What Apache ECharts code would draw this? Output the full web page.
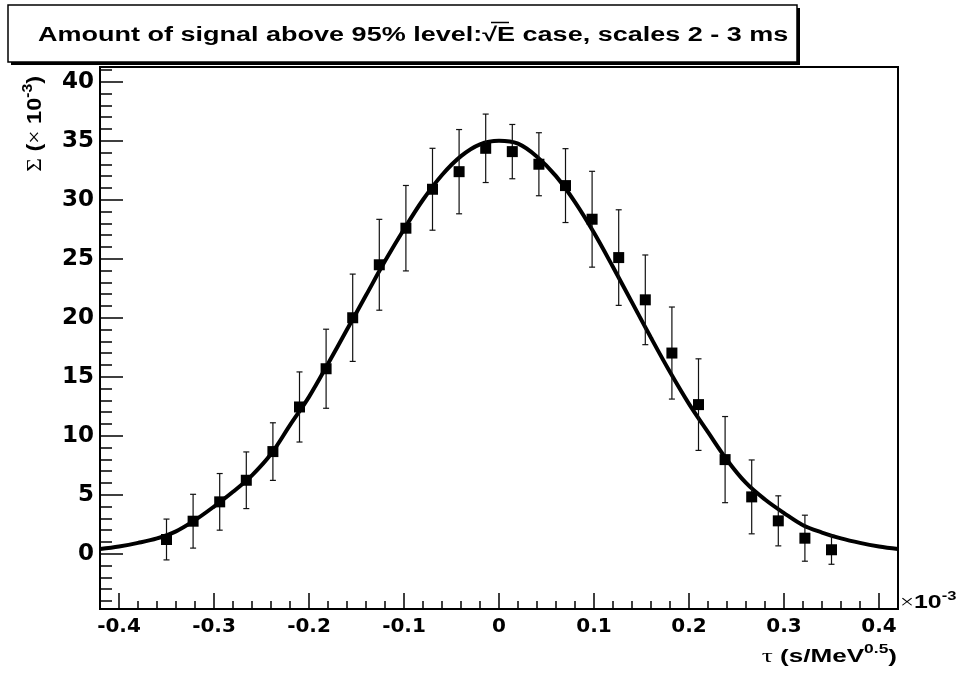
<!DOCTYPE html>
<html>
<head>
<meta charset="utf-8">
<title>Amount of signal above 95% level</title>
<script src="https://cdn.jsdelivr.net/npm/echarts@6/dist/echarts.min.js"></script>
<style>
  html, body { margin: 0; padding: 0; background: #fff; }
  #chart { width: 964px; height: 675px; }
</style>
</head>
<body>
<div id="chart"></div>
<script>
// bin centres, tau in units of 10^-3 s/MeV^0.5
const tau = [-0.350, -0.322, -0.294, -0.266, -0.238, -0.210, -0.182, -0.154, -0.126,
  -0.098, -0.070, -0.042, -0.014, 0.014, 0.042, 0.070, 0.098, 0.126, 0.154, 0.182,
  0.210, 0.238, 0.266, 0.294, 0.322, 0.350];
// measured Sigma (x 10^-3) and its error
const sigma = [1.21, 2.76, 4.40, 6.23, 8.66, 12.44, 15.68, 20.0, 24.49,
  27.59, 30.89, 32.38, 34.36, 34.08, 33.01, 31.2, 28.35, 25.1, 21.52, 17.01,
  12.64, 7.98, 4.82, 2.79, 1.32, 0.34];
const sigmaErr = [1.73, 2.28, 2.4, 2.4, 2.44, 2.97, 3.35, 3.7, 3.85,
  3.62, 3.47, 3.57, 2.9, 2.3, 2.67, 3.13, 4.06, 4.05, 3.8, 3.9,
  3.88, 3.65, 3.13, 2.12, 1.95, 1.23];

// gaussian fit curve
const fitTau = [-0.42, -0.40, -0.38, -0.36, -0.34, -0.32, -0.30, -0.28, -0.26, -0.24,
  -0.22, -0.20, -0.18, -0.16, -0.14, -0.12, -0.10, -0.08, -0.06, -0.04, -0.02, 0.00,
  0.02, 0.04, 0.06, 0.08, 0.10, 0.12, 0.14, 0.16, 0.18, 0.20, 0.22, 0.24, 0.26, 0.28,
  0.30, 0.32, 0.34, 0.36, 0.38, 0.40, 0.42];
const fitSigma = [0.4, 0.62, 0.92, 1.3, 1.9, 2.85, 4.0, 5.25, 6.65, 8.45,
  10.9, 13.3, 16.1, 19.0, 21.9, 24.8, 27.5, 30.0, 32.1, 33.7, 34.7, 35.0,
  34.75, 33.65, 32.0, 29.8, 27.2, 24.3, 21.3, 18.3, 15.4, 12.7, 10.3, 7.95, 6.0, 4.6,
  3.45, 2.42, 1.8, 1.3, 0.92, 0.62, 0.4];

// ticks
const xMajorTicks = [-0.4, -0.3, -0.2, -0.1, 0, 0.1, 0.2, 0.3, 0.4];
const yMajorTicks = [0, 5, 10, 15, 20, 25, 30, 35, 40];
const yMinorTicks = [-4, -3, -2, -1, 0, 1, 2, 3, 4, 5, 6, 7, 8, 9, 10, 11, 12, 13, 14,
  15, 16, 17, 18, 19, 20, 21, 22, 23, 24, 25, 26, 27, 28, 29, 30, 31, 32, 33, 34, 35,
  36, 37, 38, 39, 40, 41];

const chart = echarts.init(document.getElementById('chart'));

const tickFont = 'DejaVu Sans';
const sans = 'Liberation Sans';
const serif = 'Liberation Serif';
const black = '#000';

chart.setOption({
  animation: false,
  grid: {
    left: 100, right: 66, top: 67, bottom: 66,
    show: true, borderColor: black, borderWidth: 2
  },
  xAxis: [
    {
      type: 'value', min: -0.42, max: 0.42, position: 'bottom',
      axisLine: { show: true, onZero: false, lineStyle: { color: black, width: 2 } },
      axisTick: { show: true, inside: true, length: 16, customValues: xMajorTicks,
        lineStyle: { color: black, width: 1.5 } },
      axisLabel: { customValues: xMajorTicks, margin: 8, color: black,
        fontFamily: tickFont, fontWeight: 'bold', fontSize: 20 },
      splitLine: { show: false }
    },
    {
      // minor ticks only
      type: 'value', min: -0.42, max: 0.42, interval: 0.02, position: 'bottom',
      axisLine: { show: false, onZero: false },
      axisTick: { show: true, inside: true, length: 8, lineStyle: { color: black, width: 1.5 } },
      axisLabel: { show: false },
      splitLine: { show: false }
    }
  ],
  yAxis: [
    {
      type: 'value', min: -4.68, max: 41.25, position: 'left',
      axisLine: { show: true, onZero: false, lineStyle: { color: black, width: 2 } },
      axisTick: { show: true, inside: true, length: 23, customValues: yMajorTicks,
        lineStyle: { color: black, width: 1.5 } },
      axisLabel: { customValues: yMajorTicks, margin: 6, color: black,
        fontFamily: tickFont, fontWeight: 'bold', fontSize: 23 },
      splitLine: { show: false }
    },
    {
      type: 'value', min: -4.68, max: 41.25, position: 'left',
      axisLine: { show: false, onZero: false },
      axisTick: { show: true, inside: true, length: 12, customValues: yMinorTicks,
        lineStyle: { color: black, width: 1.5 } },
      axisLabel: { show: false },
      splitLine: { show: false }
    }
  ],
  series: [
    {
      name: 'fit',
      type: 'line',
      data: fitTau.map((t, i) => [t, fitSigma[i]]),
      smooth: 0.35,
      showSymbol: false,
      lineStyle: { color: black, width: 4 },
      z: 2
    },
    {
      name: 'errors',
      type: 'custom',
      data: tau.map((t, i) => [t, sigma[i], sigmaErr[i]]),
      encode: { x: 0, y: 1 },
      renderItem: function (params, api) {
        const x = api.value(0);
        const y = api.value(1);
        const e = api.value(2);
        const top = api.coord([x, y + e]);
        const bot = api.coord([x, y - e]);
        const cap = 3;
        const style = { stroke: '#111', lineWidth: 1.2 };
        return {
          type: 'group',
          children: [
            { type: 'line', shape: { x1: top[0], y1: top[1], x2: bot[0], y2: bot[1] }, style: style },
            { type: 'line', shape: { x1: top[0] - cap, y1: top[1], x2: top[0] + cap, y2: top[1] }, style: style },
            { type: 'line', shape: { x1: bot[0] - cap, y1: bot[1], x2: bot[0] + cap, y2: bot[1] }, style: style }
          ]
        };
      },
      z: 3
    },
    {
      name: 'data',
      type: 'scatter',
      data: tau.map((t, i) => [t, sigma[i]]),
      symbol: 'rect',
      symbolSize: 11,
      itemStyle: { color: black, opacity: 1 },
      z: 4
    }
  ],
  graphic: [
    // title box with shadow
    { type: 'rect', shape: { x: 11, y: 8, width: 789, height: 57 }, style: { fill: black }, z: 10 },
    { type: 'rect', shape: { x: 8, y: 5, width: 789, height: 57 },
      style: { fill: '#fff', stroke: black, lineWidth: 1.5 }, z: 11 },
    {
      type: 'text', x: 38, y: 36, scaleX: 1.385, z: 12,
      style: {
        text: 'Amount of signal above 95% level:\u221AE case, scales 2 - 3 ms',
        fontFamily: sans, fontWeight: 'bold', fontSize: 19.5, fill: black,
        align: 'left', verticalAlign: 'middle', textAlign: 'left', textVerticalAlign: 'middle'
      }
    },
    // bar of the square root over E
    { type: 'line', shape: { x1: 491, y1: 22.5, x2: 509, y2: 22.5 },
      style: { stroke: black, lineWidth: 1.5 }, z: 12 },
    // y axis title
    {
      type: 'text', x: 35, y: 76, rotation: Math.PI / 2, scaleX: 1.12, z: 12,
      style: {
        text: '{sym|\u03A3}{b| (}{sym|\u00D7}{b| 10}{sup|-3}{b|)}',
        align: 'right', verticalAlign: 'middle', textAlign: 'right', textVerticalAlign: 'middle',
        fill: black,
        rich: {
          sym: { fontFamily: serif, fontSize: 21, lineHeight: 28, fill: black },
          b: { fontFamily: sans, fontWeight: 'bold', fontSize: 21, lineHeight: 28, fill: black },
          sup: { fontFamily: sans, fontWeight: 'bold', fontSize: 14, lineHeight: 14, verticalAlign: 'top', fill: black }
        }
      }
    },
    // x axis title
    {
      type: 'text', x: 897, y: 657, scaleX: 1.45, z: 12,
      style: {
        text: '{sym|\u03C4}{b| (s/MeV}{sup|0.5}{b|)}',
        align: 'right', verticalAlign: 'middle', textAlign: 'right', textVerticalAlign: 'middle',
        fill: black,
        rich: {
          sym: { fontFamily: serif, fontSize: 19, lineHeight: 26, fill: black },
          b: { fontFamily: sans, fontWeight: 'bold', fontSize: 18, lineHeight: 26, fill: black },
          sup: { fontFamily: sans, fontWeight: 'bold', fontSize: 12, lineHeight: 12, verticalAlign: 'top', fill: black }
        }
      }
    },
    // x axis exponent
    {
      type: 'text', x: 900, y: 603, scaleX: 1.38, z: 12,
      style: {
        text: '{sym|\u00D7}{b|10}{sup|-3}',
        align: 'left', verticalAlign: 'middle', textAlign: 'left', textVerticalAlign: 'middle',
        fill: black,
        rich: {
          sym: { fontFamily: serif, fontSize: 18, lineHeight: 24, fill: black },
          b: { fontFamily: sans, fontWeight: 'bold', fontSize: 18, lineHeight: 24, fill: black },
          sup: { fontFamily: sans, fontWeight: 'bold', fontSize: 12, lineHeight: 12, verticalAlign: 'top', fill: black }
        }
      }
    }
  ]
});
</script>
</body>
</html>
